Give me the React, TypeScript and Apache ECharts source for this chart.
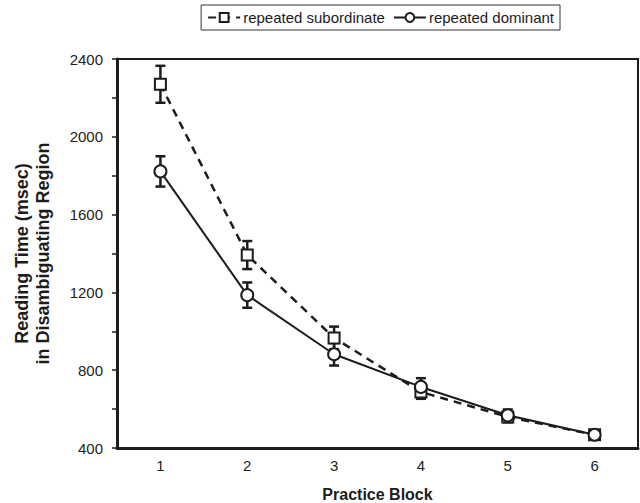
import React, { useEffect, useRef } from "react";
import * as echarts from "echarts";

const blocks = ["1", "2", "3", "4", "5", "6"];
const subordinate = [2270, 1392, 966, 688, 560, 468];
const subordinateErr = [95, 72, 58, 35, 28, 22];
const dominant = [1822, 1186, 882, 714, 568, 468];
const dominantErr = [78, 65, 58, 45, 30, 22];

const FONT = "'Liberation Sans', Arial, sans-serif";
const INK = "#1c1c1c";

function errData(vals: number[], errs: number[]) {
  return vals.map((v, i) => [i, v - errs[i], v + errs[i]]);
}

function errSeries(name: string, vals: number[], errs: number[]) {
  return {
    type: "custom",
    name: name + " err",
    z: 1,
    data: errData(vals, errs),
    encode: { x: 0, y: [1, 2] },
    renderItem: (params: any, api: any) => {
      const x = api.value(0);
      const lo = api.coord([x, api.value(1)]);
      const hi = api.coord([x, api.value(2)]);
      const cap = 5;
      const style = { stroke: INK, lineWidth: 2.5 };
      return {
        type: "group",
        children: [
          { type: "line", shape: { x1: lo[0], y1: lo[1], x2: hi[0], y2: hi[1] }, style },
          { type: "line", shape: { x1: lo[0] - cap, y1: lo[1], x2: lo[0] + cap, y2: lo[1] }, style },
          { type: "line", shape: { x1: hi[0] - cap, y1: hi[1], x2: hi[0] + cap, y2: hi[1] }, style },
        ],
      };
    },
  };
}

export default function App() {
  const ref = useRef<HTMLDivElement>(null);
  useEffect(() => {
    const chart = echarts.init(ref.current!, null, { renderer: "svg" });
    chart.setOption({
      animation: false,
      backgroundColor: "#fff",
      textStyle: { fontFamily: FONT },
      legend: {
        right: 80,
        top: 5,
        padding: [5, 6, 5, 6],
        itemGap: 8,
        itemWidth: 32,
        itemHeight: 11,
        borderColor: "#333",
        borderWidth: 1,
        textStyle: { fontSize: 15, color: INK, fontFamily: FONT, padding: [0, 0, 0, -2] },
        data: ["repeated subordinate", "repeated dominant"],
      },
      grid: {
        left: 117,
        right: 2,
        top: 59,
        bottom: 55,
        outerBoundsMode: "none",
        containLabel: false,
        show: true,
        borderColor: INK,
        borderWidth: 2,
      },
      xAxis: {
        type: "category",
        data: blocks,
        boundaryGap: true,
        name: "Practice Block",
        nameLocation: "middle",
        nameGap: 38,
        nameTextStyle: { fontSize: 16, fontWeight: "bold", color: INK, fontFamily: FONT },
        axisLine: { lineStyle: { color: INK, width: 3 } },
        axisTick: { alignWithLabel: true, length: 5, lineStyle: { color: INK, width: 2 } },
        axisLabel: { fontSize: 15, color: "#222", margin: 10, fontFamily: FONT },
        splitLine: { show: false },
      },
      yAxis: {
        type: "value",
        min: 400,
        max: 2400,
        interval: 200,
        name: "Reading Time (msec)\nin Disambiguating Region",
        nameLocation: "middle",
        nameRotate: 90,
        nameGap: 64,
        nameTextStyle: { fontSize: 18, fontWeight: "bold", color: INK, fontFamily: FONT, lineHeight: 21 },
        axisLine: { show: true, lineStyle: { color: INK, width: 3 } },
        axisTick: { show: true, length: 5, lineStyle: { color: INK, width: 1.5 } },
        axisLabel: {
          fontSize: 15,
          color: "#222",
          margin: 14,
          fontFamily: FONT,
          formatter: (v: number) => (v % 400 === 0 ? String(v) : ""),
        },
        splitLine: { show: false },
      },
      series: [
        errSeries("repeated subordinate", subordinate, subordinateErr),
        errSeries("repeated dominant", dominant, dominantErr),
        {
          type: "line",
          name: "repeated subordinate",
          data: subordinate,
          z: 3,
          symbol: "rect",
          symbolSize: 11,
          itemStyle: { color: "#fff", borderColor: INK, borderWidth: 2 },
          lineStyle: { color: INK, width: 2.5, type: [8, 6] },
        },
        {
          type: "line",
          name: "repeated dominant",
          data: dominant,
          z: 4,
          symbol: "circle",
          symbolSize: 12,
          itemStyle: { color: "#fff", borderColor: INK, borderWidth: 2 },
          lineStyle: { color: INK, width: 2 },
        },
      ],
    });
    return () => chart.dispose();
  }, []);
  return <div ref={ref} style={{ width: 640, height: 503, position: "absolute", left: 0, top: 0 }} />;
}
